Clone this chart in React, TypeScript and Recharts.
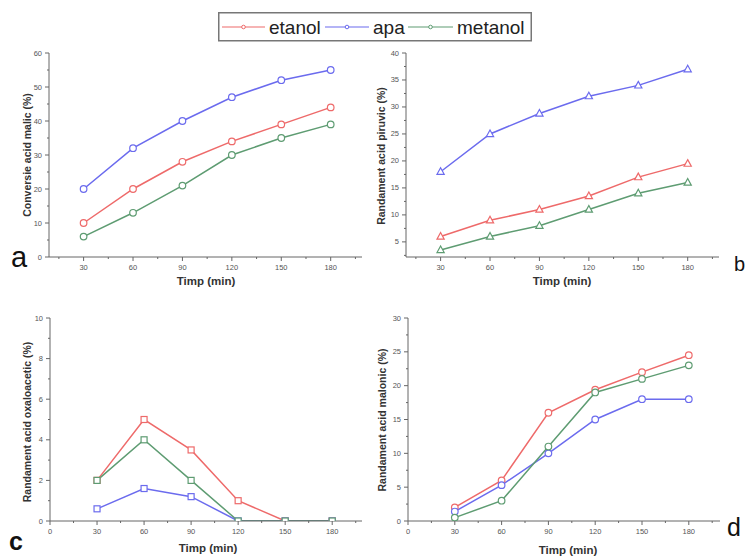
import { LineChart, Line, XAxis, YAxis } from "recharts";

const TIMES = [30, 60, 90, 120, 150, 180];

const malicEtanol = [10, 20, 28, 34, 39, 44];
const malicApa = [20, 32, 40, 47, 52, 55];
const malicMetanol = [6, 13, 21, 30, 35, 39];

const piruvicEtanol = [6, 9, 11, 13.5, 17, 19.5];
const piruvicApa = [18, 25, 28.8, 32, 34, 37];
const piruvicMetanol = [3.5, 6, 8, 11, 14, 16];

const oxaloEtanol = [2, 5, 3.5, 1, 0, 0];
const oxaloApa = [0.6, 1.6, 1.2, 0, 0, 0];
const oxaloMetanol = [2, 4, 2, 0, 0, 0];

const malonicEtanol = [2, 6, 16, 19.4, 22, 24.5];
const malonicApa = [1.4, 5.3, 10, 15, 18, 18];
const malonicMetanol = [0.5, 3, 11, 19, 21, 23];

const X_TICKS_TOP = [15, 30, 45, 60, 75, 90, 105, 120, 135, 150, 165, 180, 195];
const X_TICKS_BOTTOM = [0, ...X_TICKS_TOP];
const Y_TICKS_A = [0, 5, 10, 15, 20, 25, 30, 35, 40, 45, 50, 55, 60];
const Y_TICKS_B = [2.5, 5, 7.5, 10, 12.5, 15, 17.5, 20, 22.5, 25, 27.5, 30, 32.5, 35, 37.5, 40];
const Y_TICKS_C = [0, 1, 2, 3, 4, 5, 6, 7, 8, 9, 10];
const Y_TICKS_D = [0, 2.5, 5, 7.5, 10, 12.5, 15, 17.5, 20, 22.5, 25, 27.5, 30];

const SERIES = ["etanol", "apa", "metanol"];

const RED = "#ee6a6a";
const BLUE = "#6b6bee";
const GREEN = "#5e9c72";
const COLORS = [RED, BLUE, GREEN];
const AXIS = "#666";
const FONT = "Arial, 'Liberation Sans', sans-serif";

const rows = (a: number[], b: number[], c: number[]) =>
  TIMES.map((t, i) => ({ t, etanol: a[i], apa: b[i], metanol: c[i] }));

const XTick = (props: any) => {
  const { x, y, payload, step } = props;
  const major = payload.value % step === 0;
  return (
    <g>
      <line x1={x} x2={x} y1={y} y2={y + (major ? 4 : 2)} stroke={AXIS} />
      {major && (
        <text x={x} y={y + 13} textAnchor="middle" fontSize={7.5} fill="#555" fontFamily={FONT}>
          {payload.value}
        </text>
      )}
    </g>
  );
};

const YTick = (props: any) => {
  const { x, y, payload, step } = props;
  const major = Math.abs(payload.value % step) < 1e-9;
  return (
    <g>
      <line x1={x} x2={x - (major ? 4 : 2)} y1={y} y2={y} stroke={AXIS} />
      {major && (
        <text x={x - 7} y={y + 2.5} textAnchor="end" fontSize={7.5} fill="#555" fontFamily={FONT}>
          {payload.value}
        </text>
      )}
    </g>
  );
};

const circleDot = (color: string) => (p: any) =>
  <circle key={p.index} cx={p.cx} cy={p.cy} r={3.3} fill="#fff" stroke={color} strokeWidth={1.2} />;

const triangleDot = (color: string) => (p: any) =>
  (
    <path
      key={p.index}
      d={`M${p.cx},${p.cy - 4} L${p.cx + 3.6},${p.cy + 2.6} L${p.cx - 3.6},${p.cy + 2.6} Z`}
      fill="#fff"
      stroke={color}
      strokeWidth={1.2}
    />
  );

const squareDot = (color: string) => (p: any) =>
  <rect key={p.index} x={p.cx - 3} y={p.cy - 3} width={6} height={6} fill="#fff" stroke={color} strokeWidth={1.2} />;

type PanelProps = {
  left: number;
  top: number;
  width: number;
  height: number;
  margin: { top: number; right: number; left: number; bottom: number };
  yWidth: number;
  xHeight: number;
  data: any[];
  xDomain: [number, number];
  xTicks: number[];
  yDomain: [number, number];
  yTicks: number[];
  yStep: number;
  dot: (c: string) => any;
};

function Panel(p: PanelProps) {
  return (
    <div style={{ position: "absolute", left: p.left, top: p.top }}>
      <LineChart width={p.width} height={p.height} data={p.data} margin={p.margin}>
        <XAxis
          dataKey="t"
          type="number"
          domain={p.xDomain}
          ticks={p.xTicks}
          allowDataOverflow
          height={p.xHeight}
          tickSize={0}
          tickMargin={0}
          tickLine={false}
          axisLine={{ stroke: AXIS }}
          interval={0}
          tick={(t: any) => <XTick {...t} step={30} />}
        />
        <YAxis
          type="number"
          domain={p.yDomain}
          ticks={p.yTicks}
          allowDataOverflow
          width={p.yWidth}
          tickSize={0}
          tickMargin={0}
          tickLine={false}
          axisLine={{ stroke: AXIS }}
          interval={0}
          tick={(t: any) => <YTick {...t} step={p.yStep} />}
        />
        {SERIES.map((s, i) => (
          <Line
            key={s}
            dataKey={s}
            type="linear"
            stroke={COLORS[i]}
            strokeWidth={1.5}
            dot={p.dot(COLORS[i])}
            isAnimationActive={false}
          />
        ))}
      </LineChart>
    </div>
  );
}

const textStyle = (x: number, y: number, size: number, rotate = false): any => ({
  position: "absolute",
  left: x,
  top: y,
  transform: `translate(-50%, -50%)${rotate ? " rotate(-90deg)" : ""}`,
  fontFamily: FONT,
  fontWeight: "bold",
  fontSize: size,
  color: "#333",
  whiteSpace: "nowrap",
});

const letterStyle = (x: number, y: number, size: number, bold = false): any => ({
  position: "absolute",
  left: x,
  top: y,
  fontFamily: FONT,
  fontSize: size,
  fontWeight: bold ? "bold" : "normal",
  color: "#111",
  lineHeight: 1,
});

export default function App() {
  return (
    <div style={{ position: "absolute", left: 0, top: 0, width: 749, height: 556, background: "#fff", overflow: "hidden" }}>
      <Panel
        left={0}
        top={0}
        width={375}
        height={290}
        margin={{ top: 53, right: 13, left: 0, bottom: 0 }}
        yWidth={49}
        xHeight={33}
        data={rows(malicEtanol, malicApa, malicMetanol)}
        xDomain={[9, 199]}
        xTicks={X_TICKS_TOP}
        yDomain={[0, 60]}
        yTicks={Y_TICKS_A}
        yStep={10}
        dot={circleDot}
      />
      <Panel
        left={375}
        top={0}
        width={374}
        height={290}
        margin={{ top: 53, right: 30, left: 0, bottom: 0 }}
        yWidth={31}
        xHeight={33}
        data={rows(piruvicEtanol, piruvicApa, piruvicMetanol)}
        xDomain={[9, 199]}
        xTicks={X_TICKS_TOP}
        yDomain={[2.2, 40]}
        yTicks={Y_TICKS_B}
        yStep={5}
        dot={triangleDot}
      />
      <Panel
        left={0}
        top={290}
        width={375}
        height={266}
        margin={{ top: 28, right: 13, left: 0, bottom: 0 }}
        yWidth={50}
        xHeight={35}
        data={rows(oxaloEtanol, oxaloApa, oxaloMetanol)}
        xDomain={[0, 199]}
        xTicks={X_TICKS_BOTTOM}
        yDomain={[0, 10]}
        yTicks={Y_TICKS_C}
        yStep={2}
        dot={squareDot}
      />
      <Panel
        left={375}
        top={290}
        width={374}
        height={266}
        margin={{ top: 28, right: 29, left: 0, bottom: 0 }}
        yWidth={33}
        xHeight={35}
        data={rows(malonicEtanol, malonicApa, malonicMetanol)}
        xDomain={[0, 200]}
        xTicks={X_TICKS_BOTTOM}
        yDomain={[0, 30]}
        yTicks={Y_TICKS_D}
        yStep={5}
        dot={circleDot}
      />

      <div style={textStyle(27, 155, 10.5, true)}>Conversie acid malic (%)</div>
      <div style={textStyle(381, 156, 10.5, true)}>Randament acid piruvic (%)</div>
      <div style={textStyle(27, 422, 10.5, true)}>Randament acid oxaloacetic (%)</div>
      <div style={textStyle(382, 420, 10.5, true)}>Randament acid malonic (%)</div>

      <div style={textStyle(206, 281, 11.5)}>Timp (min)</div>
      <div style={textStyle(562, 281, 11.5)}>Timp (min)</div>
      <div style={textStyle(208, 548, 11.5)}>Timp (min)</div>
      <div style={textStyle(568, 550, 11.5)}>Timp (min)</div>

      <div style={letterStyle(11, 243, 29)}>a</div>
      <div style={letterStyle(734, 254, 20)}>b</div>
      <div style={letterStyle(9, 529, 25, true)}>c</div>
      <div style={letterStyle(727, 515, 25)}>d</div>

      <svg style={{ position: "absolute", left: 218, top: 12 }} width={314} height={30}>
        <rect x={0.75} y={0.75} width={312.5} height={28} fill="#fff" stroke="#777" strokeWidth={1.5} />
        {[
          { x1: 4, x2: 47, tx: 51 },
          { x1: 107, x2: 151, tx: 155 },
          { x1: 190, x2: 235, tx: 239 },
        ].map((l, i) => (
          <g key={SERIES[i]}>
            <line x1={l.x1} x2={l.x2} y1={15} y2={15} stroke={COLORS[i]} strokeWidth={1.2} />
            <circle cx={(l.x1 + l.x2) / 2} cy={15} r={1.8} fill="#fff" stroke={COLORS[i]} strokeWidth={1} />
            <text x={l.tx} y={21.5} fontSize={19} fontFamily={FONT} fill="#222">
              {SERIES[i]}
            </text>
          </g>
        ))}
      </svg>
    </div>
  );
}
